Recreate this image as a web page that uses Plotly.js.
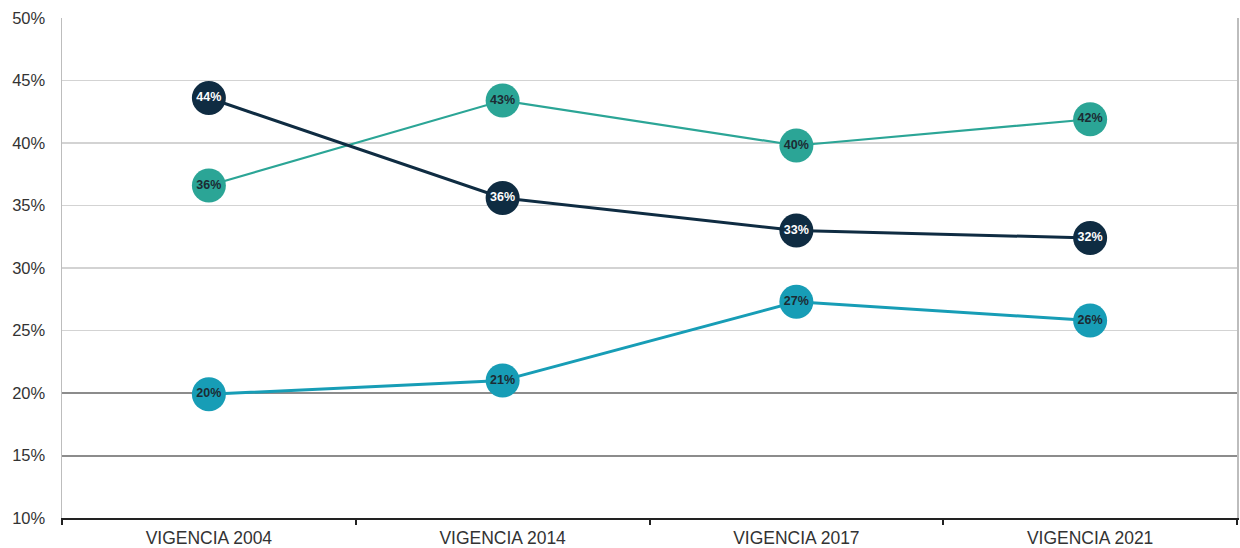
<!DOCTYPE html>
<html>
<head>
<meta charset="utf-8">
<script src="https://cdn.plot.ly/plotly-3.0.1.min.js"></script>
<style>html,body{margin:0;padding:0;background:#fff;}#chart{width:1240px;height:548px;}</style>
</head>
<body>
<div id="chart"></div>
<script>
const categories = ["VIGENCIA 2004", "VIGENCIA 2014", "VIGENCIA 2017", "VIGENCIA 2021"];
const navyValues = [43.6, 35.6, 33.0, 32.4];
const navyLabels = ["44%", "36%", "33%", "32%"];
const greenValues = [36.6, 43.4, 39.8, 41.9];
const greenLabels = ["36%", "43%", "40%", "42%"];
const blueValues = [19.9, 21.0, 27.3, 25.8];
const blueLabels = ["20%", "21%", "27%", "26%"];
const yTickVals = [10, 15, 20, 25, 30, 35, 40, 45, 50];
const yTickText = ["10%", "15%", "20%", "25%", "30%", "35%", "40%", "45%", "50%"];
const darkGridVals = [15, 20];

const labelFont = {family: "Liberation Sans Narrow, Arial Narrow, Liberation Sans, Arial, sans-serif", size: 12.5, weight: 700};

function series(vals, labels, color, textColor, width) {
  return {
    x: categories, y: vals, text: labels,
    type: "scatter", mode: "lines+markers+text",
    line: {color: color, width: width},
    marker: {color: color, size: 34, line: {width: 0}},
    textposition: "middle center",
    textfont: Object.assign({}, labelFont, {color: textColor}),
    cliponaxis: false,
    hoverinfo: "skip"
  };
}

const data = [
  series(greenValues, greenLabels, "#2ba596", "#1c2b33", 2.2),
  series(navyValues, navyLabels, "#0f2c42", "#ffffff", 3),
  series(blueValues, blueLabels, "#179db6", "#1c2b33", 3)
];

const layout = {
  width: 1240, height: 548,
  margin: {l: 62, r: 3, t: 18, b: 30},
  paper_bgcolor: "#ffffff", plot_bgcolor: "#ffffff",
  showlegend: false,
  font: {family: "Liberation Sans, Arial, sans-serif", color: "#333333", size: 16},
  xaxis: {
    type: "category", range: [-0.5, 3.5],
    showgrid: false, zeroline: false,
    showline: true, linecolor: "#222222", linewidth: 2,
    ticks: "outside", tickson: "boundaries", ticklen: 5, tickcolor: "#222222", tickwidth: 2,
    ticklabelstandoff: 3,
    tickfont: {size: 17.5, color: "#333333"}
  },
  yaxis: {
    range: [10, 50], tickvals: yTickVals, ticktext: yTickText,
    showgrid: true, gridcolor: "#d3d3d3", gridwidth: 1.5,
    zeroline: false, showline: true, mirror: true, linecolor: "#bdbdbd", linewidth: 1.5,
    ticks: "", ticklabelstandoff: 12,
    tickfont: {size: 16.5, color: "#333333"}
  },
  yaxis2: {
    overlaying: "y", side: "left", range: [10, 50], tickvals: darkGridVals,
    showgrid: true, gridcolor: "#8c8c8c", gridwidth: 2,
    zeroline: false, showline: false, showticklabels: false, ticks: ""
  }
};

data.push({x: [categories[0]], y: [null], yaxis: "y2", type: "scatter", mode: "lines", hoverinfo: "skip", showlegend: false});

Plotly.newPlot("chart", data, layout, {displayModeBar: false, staticPlot: true});
</script>
</body>
</html>
